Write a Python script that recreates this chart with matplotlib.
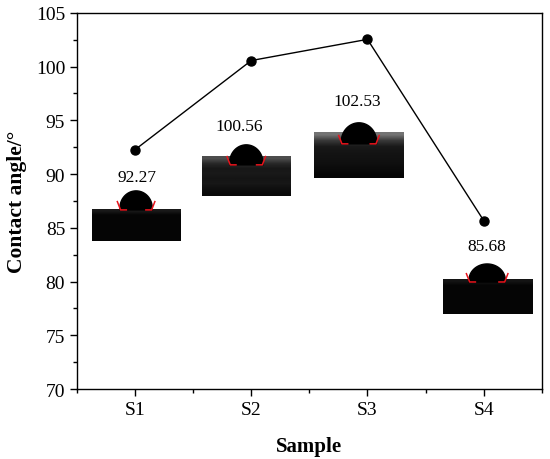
import numpy as np
import matplotlib
matplotlib.use("Agg")
import matplotlib.pyplot as plt
from matplotlib.ticker import MultipleLocator
from matplotlib.patches import Polygon

samples = ["S1", "S2", "S3", "S4"]
angles = [92.27, 100.56, 102.53, 85.68]

plt.rcParams['font.family'] = ['Liberation Serif', 'DejaVu Serif']

fig = plt.figure(figsize=(5.5, 4.6), dpi=100)
ax = fig.add_axes([0.14, 0.152, 0.845, 0.818])

x = np.arange(len(samples))
ax.plot(x, angles, color='black', lw=1.0, marker='o', ms=6.5, zorder=5)

ax.set_xlim(-0.5, 3.5)
ax.set_ylim(70, 105)

# pixel -> data helpers (layout only)
PX_X = 116.0
PX_Y = 10.74
def py2y(py):
    return 70 + (390 - py) / PX_Y
def px2x(px):
    return (px - 136) / PX_X

# inset photo-like images: (left, right, top, bottom, surface px, drop w, drop h, shading profile)
insets = [
    (93, 181, 211, 242, 211, 32, 19, [0.10, 0.02, 0.02, 0.02, 0.02, 0.02, 0.02, 0.02]),
    (203, 291, 158, 197, 166, 33, 20, [0.30, 0.16, 0.09, 0.10, 0.08, 0.09, 0.06, 0.04]),
    (315, 404, 134, 179, 145, 35, 21, [0.45, 0.22, 0.10, 0.08, 0.07, 0.06, 0.04, 0.02]),
    (443, 532, 281, 315, 283, 36, 18, [0.08, 0.02, 0.02, 0.02, 0.02, 0.02, 0.02, 0.02]),
]
label_pos = [(138, 178), (240, 127), (358, 102), (487, 247)]

for (l, r, t, b, s, dw, dh, prof), val, (lx, ly) in zip(insets, angles, label_pos):
    arr = np.array(prof).reshape(-1, 1) * np.ones((1, 20))
    ax.imshow(arr, cmap='gray', vmin=0, vmax=1, aspect='auto', interpolation='bilinear',
              extent=(px2x(l), px2x(r), py2y(b), py2y(t)), zorder=2)
    cxp = (l + r) / 2.0
    th = np.linspace(-0.12, np.pi + 0.12, 60)
    rx = dw / 2.0 / np.cos(0.12)
    xs = px2x(cxp + rx * np.cos(th))
    ys = py2y(s - dh * (np.sin(th) + np.sin(0.12)) / (1 + np.sin(0.12)))
    ax.add_patch(Polygon(np.column_stack([xs, ys]), closed=True, color='black', zorder=3))
    # red tangent marks
    for sgn in (-1, 1):
        xc = cxp + sgn * dw / 2.0
        ax.plot([px2x(xc + sgn * 3), px2x(xc - sgn * 0.5), px2x(xc - sgn * 7)],
                [py2y(s - 9), py2y(s), py2y(s)], color='#e8141c', lw=1.1, zorder=4,
                solid_capstyle='butt')
    ax.text(px2x(lx), py2y(ly), f"{val:.2f}", ha='center', va='center', fontsize=12.5, zorder=6)

ax.set_xlim(-0.5, 3.5)
ax.set_ylim(70, 105)
ax.set_xticks(x)
ax.set_xticklabels(samples)
ax.xaxis.set_minor_locator(MultipleLocator(0.5))
ax.yaxis.set_major_locator(MultipleLocator(5))
ax.yaxis.set_minor_locator(MultipleLocator(2.5))
ax.tick_params(which='both', direction='out', top=False, right=False, labelsize=14, width=1)
ax.tick_params(which='major', length=5)
ax.tick_params(which='minor', length=3)
for sp in ax.spines.values():
    sp.set_linewidth(1.0)

ax.set_xlabel("Sample", fontsize=15, fontweight='bold', labelpad=13)
ax.set_ylabel("Contact angle/°", fontsize=15.5, fontweight='bold', labelpad=6)

fig.savefig("out.png", dpi=100)
